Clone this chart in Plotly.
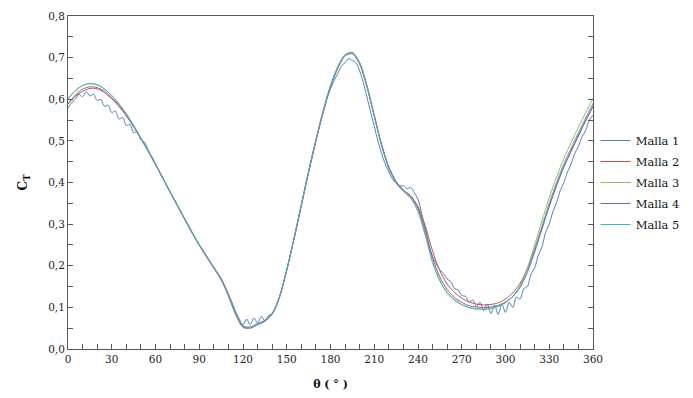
import plotly.graph_objects as go

# ---------------- data ----------------
theta = list(range(0, 361, 5))                 # 0..360 step 5 (smooth meshes)
theta_m1 = [i * 2.5 for i in range(145)]        # 0..360 step 2.5 (Malla 1)

malla1 = [
    0.578, 0.592, 0.600, 0.612, 0.606, 0.618, 0.608, 0.612, 0.597, 0.600,
    0.583, 0.586, 0.568, 0.572, 0.552, 0.556, 0.537, 0.540, 0.520, 0.522,
    0.502, 0.497, 0.478, 0.462, 0.445, 0.428, 0.412, 0.395, 0.378, 0.362,
    0.346, 0.330, 0.313, 0.298, 0.281, 0.265, 0.250, 0.238, 0.224, 0.210,
    0.197, 0.183, 0.170, 0.152, 0.132, 0.112, 0.090, 0.072, 0.058, 0.072,
    0.058, 0.075, 0.062, 0.078, 0.068, 0.080, 0.085, 0.100, 0.125, 0.155,
    0.190, 0.227, 0.265, 0.305, 0.345, 0.385, 0.425, 0.463, 0.500, 0.536,
    0.568, 0.600, 0.625, 0.645, 0.662, 0.680, 0.688, 0.698, 0.693, 0.688,
    0.668, 0.640, 0.605, 0.570, 0.535, 0.500, 0.470, 0.445, 0.425, 0.408,
    0.398, 0.392, 0.392, 0.385, 0.388, 0.375, 0.360, 0.325, 0.290, 0.250,
    0.222, 0.205, 0.190, 0.182, 0.168, 0.162, 0.145, 0.142, 0.128, 0.127,
    0.113, 0.118, 0.102, 0.112, 0.092, 0.108, 0.085, 0.106, 0.083, 0.108,
    0.088, 0.112, 0.100, 0.125, 0.120, 0.145, 0.150, 0.180, 0.195, 0.225,
    0.245, 0.280, 0.300, 0.330, 0.352, 0.380, 0.400, 0.425, 0.445, 0.470,
    0.487, 0.510, 0.525, 0.550, 0.562,
]

malla2 = [
    0.590, 0.607, 0.619, 0.626, 0.625, 0.616, 0.601, 0.582, 0.560, 0.534,
    0.505, 0.475, 0.443, 0.410, 0.377, 0.344, 0.311, 0.279, 0.249, 0.221,
    0.194, 0.166, 0.127, 0.082, 0.052, 0.050, 0.058, 0.067, 0.084, 0.124,
    0.190, 0.266, 0.347, 0.428, 0.503, 0.573, 0.633, 0.678, 0.707, 0.712,
    0.688, 0.633, 0.562, 0.492, 0.437, 0.402, 0.382, 0.368, 0.342, 0.295,
    0.235, 0.188, 0.156, 0.136, 0.122, 0.113, 0.108, 0.106, 0.107, 0.111,
    0.120, 0.135, 0.158, 0.193, 0.240, 0.292, 0.345, 0.393, 0.437, 0.475,
    0.512, 0.548, 0.582,
]

malla3 = [
    0.602, 0.621, 0.633, 0.637, 0.634, 0.624, 0.609, 0.589, 0.566, 0.538,
    0.507, 0.476, 0.444, 0.411, 0.378, 0.346, 0.313, 0.281, 0.251, 0.223,
    0.196, 0.169, 0.131, 0.086, 0.056, 0.051, 0.058, 0.066, 0.083, 0.124,
    0.190, 0.266, 0.347, 0.427, 0.502, 0.572, 0.632, 0.677, 0.707, 0.713,
    0.688, 0.632, 0.560, 0.489, 0.433, 0.398, 0.378, 0.362, 0.330, 0.272,
    0.207, 0.163, 0.134, 0.117, 0.106, 0.099, 0.096, 0.095, 0.097, 0.102,
    0.111, 0.126, 0.152, 0.195, 0.250, 0.308, 0.363, 0.413, 0.458, 0.496,
    0.533, 0.568, 0.602,
]

malla4 = [
    0.588, 0.610, 0.624, 0.630, 0.628, 0.619, 0.604, 0.585, 0.562, 0.535,
    0.505, 0.475, 0.443, 0.410, 0.377, 0.345, 0.312, 0.280, 0.250, 0.222,
    0.195, 0.168, 0.130, 0.085, 0.055, 0.053, 0.061, 0.069, 0.086, 0.126,
    0.190, 0.264, 0.344, 0.424, 0.499, 0.569, 0.629, 0.674, 0.704, 0.709,
    0.684, 0.629, 0.560, 0.491, 0.437, 0.402, 0.382, 0.367, 0.338, 0.284,
    0.219, 0.173, 0.143, 0.124, 0.112, 0.104, 0.101, 0.100, 0.101, 0.105,
    0.113, 0.126, 0.148, 0.184, 0.233, 0.288, 0.343, 0.393, 0.438, 0.477,
    0.514, 0.549, 0.584,
]

malla5 = [
    0.600, 0.620, 0.633, 0.638, 0.635, 0.625, 0.609, 0.588, 0.564, 0.536,
    0.506, 0.475, 0.443, 0.410, 0.377, 0.345, 0.312, 0.280, 0.250, 0.222,
    0.195, 0.168, 0.129, 0.084, 0.054, 0.051, 0.059, 0.067, 0.084, 0.125,
    0.190, 0.266, 0.346, 0.426, 0.501, 0.571, 0.631, 0.676, 0.706, 0.711,
    0.686, 0.630, 0.559, 0.489, 0.434, 0.399, 0.379, 0.363, 0.332, 0.276,
    0.210, 0.165, 0.136, 0.119, 0.107, 0.100, 0.097, 0.096, 0.098, 0.103,
    0.112, 0.127, 0.150, 0.188, 0.240, 0.295, 0.350, 0.400, 0.445, 0.483,
    0.520, 0.555, 0.590,
]

x_ticks = list(range(0, 361, 30))
series_names = ["Malla 1", "Malla 2", "Malla 3", "Malla 4", "Malla 5"]
colors = ["#4F81BD", "#C0504D", "#9BBB59", "#8064A2", "#4BACC6"]

# ---------------- figure ----------------
FONT = "DejaVu Serif"
fig = go.Figure()
series = [(theta_m1, malla1), (theta, malla2), (theta, malla3), (theta, malla4), (theta, malla5)]
for (xs, ys), name, c in zip(series, series_names, colors):
    fig.add_trace(go.Scatter(
        x=xs, y=ys, name=name, mode="lines", legendgroup=name,
        line=dict(color=c, width=1, shape="spline", smoothing=0.8),
    ))

axis_line = "#595959"
# page body has an 8px margin: figure is sized so it fills the 693x398 window
fig.update_layout(
    width=685, height=390,
    margin=dict(l=60, r=96, t=8, b=49),
    paper_bgcolor="white", plot_bgcolor="white",
    separators=",.",
    font=dict(family=FONT, size=11, color="#222222"),
    showlegend=True,
    legend=dict(
        x=1.005, xanchor="left", y=0.5, yanchor="middle",
        font=dict(family=FONT, size=11.5, color="#111111"),
        bgcolor="rgba(0,0,0,0)", borderwidth=0, tracegroupgap=2,
    ),
    xaxis=dict(
        range=[0, 360], tickvals=x_ticks, ticktext=[str(v) for v in x_ticks],
        ticks="inside", ticklen=5, tickcolor=axis_line, tickwidth=1,
        minor=dict(dtick=10, tick0=0, ticks="inside", ticklen=5, tickcolor=axis_line),
        showline=True, linecolor=axis_line, linewidth=1, mirror=True,
        showgrid=False, zeroline=False, automargin=False,
        tickfont=dict(family=FONT, size=10.5, color="#222222"),
        title=dict(text="<b>θ ( ° )</b>", font=dict(family=FONT, size=11, color="#111111"), standoff=16),
    ),
    yaxis=dict(
        range=[0, 0.8], dtick=0.1, tick0=0, tickformat=".1f",
        ticks="inside", ticklen=5, tickcolor=axis_line, tickwidth=1,
        minor=dict(dtick=0.05, tick0=0, ticks="inside", ticklen=5, tickcolor=axis_line),
        showline=True, linecolor=axis_line, linewidth=1, mirror="allticks",
        showgrid=False, zeroline=False, automargin=False,
        tickfont=dict(family=FONT, size=10.5, color="#222222"),
        title=dict(text="<b>C<sub>T</sub></b>", font=dict(family=FONT, size=12, color="#111111"), standoff=17),
    ),
)

fig.write_html("out.html")
